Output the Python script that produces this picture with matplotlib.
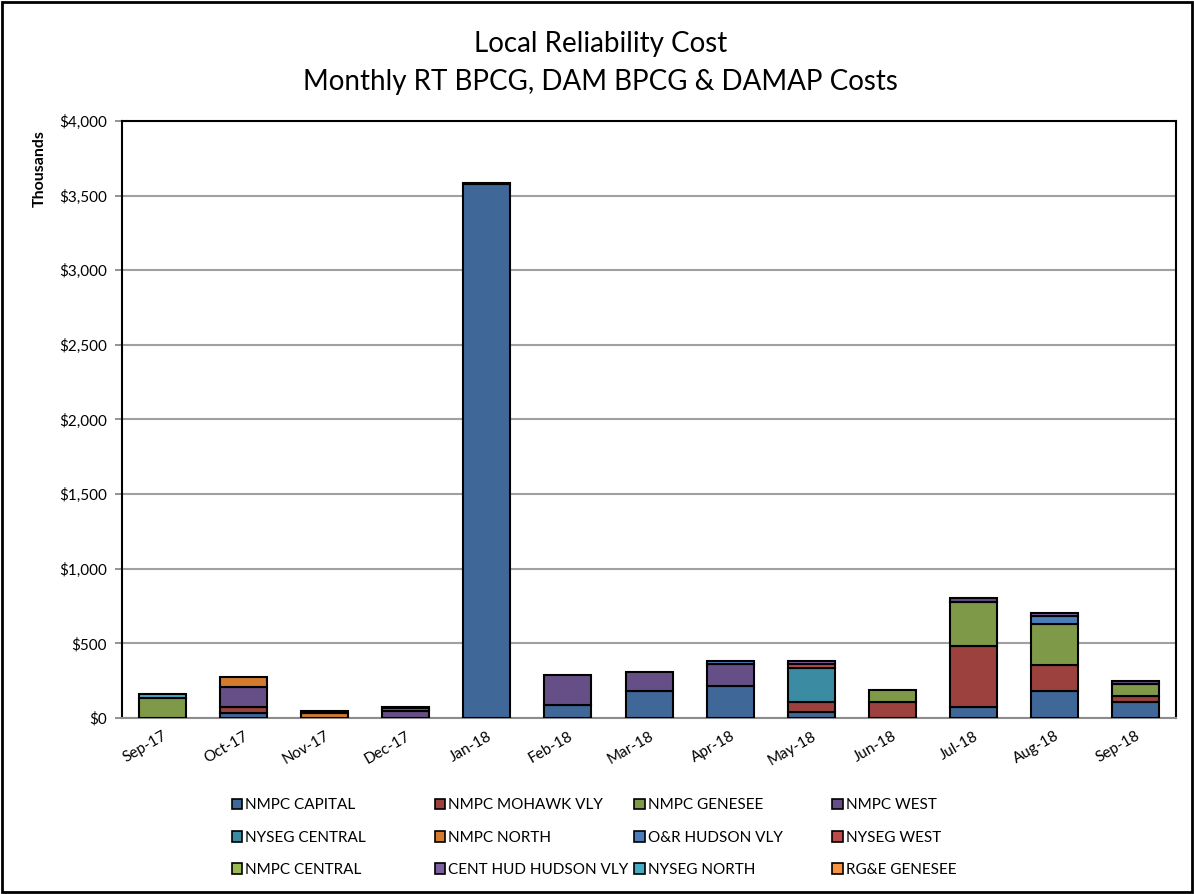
import numpy as np
import matplotlib.pyplot as plt
from matplotlib.patches import Rectangle, Patch
from matplotlib.ticker import FuncFormatter, MultipleLocator

plt.rcParams['font.family'] = ['Lato', 'DejaVu Sans']

months = ['Sep-17', 'Oct-17', 'Nov-17', 'Dec-17', 'Jan-18', 'Feb-18', 'Mar-18',
          'Apr-18', 'May-18', 'Jun-18', 'Jul-18', 'Aug-18', 'Sep-18']

# monthly cost by zone, $ thousands
nmpc_capital = [0, 35, 0, 0, 3575, 90, 183, 214, 37, 0, 75, 184, 105]
nmpc_mohawk_vly = [0, 40, 0, 0, 0, 0, 0, 0, 70, 110, 410, 174, 40]
nmpc_genesee = [135, 0, 0, 0, 0, 0, 0, 0, 0, 80, 295, 273, 85]
nmpc_west = [0, 135, 0, 45, 0, 195, 125, 147, 0, 0, 22, 0, 15]
nyseg_central = [0, 0, 0, 0, 0, 0, 0, 0, 228, 0, 0, 0, 0]
nmpc_north = [0, 62, 35, 0, 0, 0, 0, 0, 0, 0, 0, 0, 0]
or_hudson_vly = [0, 0, 0, 0, 0, 0, 0, 20, 0, 0, 0, 52, 0]
nyseg_west = [0, 0, 0, 22, 0, 0, 0, 0, 27, 0, 0, 0, 0]
nmpc_central = [0, 0, 0, 0, 0, 0, 0, 0, 0, 0, 0, 0, 0]
cent_hud_hudson_vly = [0, 0, 10, 7, 8, 0, 0, 0, 20, 0, 0, 18, 0]
nyseg_north = [25, 0, 0, 0, 0, 0, 0, 0, 0, 0, 0, 0, 0]
rge_genesee = [0, 0, 0, 0, 0, 0, 0, 0, 0, 0, 0, 0, 0]

zones = ['NMPC CAPITAL', 'NMPC MOHAWK VLY', 'NMPC GENESEE', 'NMPC WEST',
         'NYSEG CENTRAL', 'NMPC NORTH', 'O&R HUDSON VLY', 'NYSEG WEST',
         'NMPC CENTRAL', 'CENT HUD HUDSON VLY', 'NYSEG NORTH', 'RG&E GENESEE']
series = [nmpc_capital, nmpc_mohawk_vly, nmpc_genesee, nmpc_west,
          nyseg_central, nmpc_north, or_hudson_vly, nyseg_west,
          nmpc_central, cent_hud_hudson_vly, nyseg_north, rge_genesee]
colors = ['#3F6899', '#9C413E', '#7E9A48', '#664F87', '#3B8CA3', '#D27B2F',
          '#4A7EBB', '#BE4B48', '#98B954', '#7D60A0', '#46AAC5', '#F69240']

fig = plt.figure(figsize=(11.94, 8.94), dpi=100)
ax = fig.add_axes([0.1022, 0.1969, 0.8828, 0.6678])

x = np.arange(len(months))
bottom = np.zeros(len(months))
for vals, c in zip(series, colors):
    vals = np.array(vals, dtype=float)
    lw = [1.5 if v > 0 else 0 for v in vals]
    ax.bar(x, vals, 0.58, bottom=bottom, color=c, edgecolor='black',
           linewidth=lw, zorder=3)
    bottom += vals

ax.set_xlim(-0.5, len(months) - 0.5)
ax.set_ylim(0, 4000)
ax.yaxis.set_major_locator(MultipleLocator(500))
ax.yaxis.set_major_formatter(FuncFormatter(lambda v, p: f'${v:,.0f}'))
ax.grid(axis='y', color='#A0A0A0', linewidth=1.5, zorder=0)

ax.set_xticks(x)
ax.set_xticklabels(months, rotation=30, ha='right', rotation_mode='anchor')
ax.tick_params(axis='x', length=0, labelsize=11, pad=8)
ax.tick_params(axis='y', length=5, width=1.2, color='#808080', labelsize=11, pad=6)

for s in ['left', 'top', 'right']:
    ax.spines[s].set_color('black')
    ax.spines[s].set_linewidth(1.5)
ax.spines['bottom'].set_color('#8C8C8C')
ax.spines['bottom'].set_linewidth(1.5)

fig.text(0.0335, 0.812, 'Thousands', rotation=90, ha='center', va='center',
         fontsize=11.5, fontweight='bold')

fig.text(0.503, 0.951, 'Local Reliability Cost', ha='center', va='center', fontsize=20)
fig.text(0.503, 0.908, 'Monthly RT BPCG, DAM BPCG & DAMAP Costs', ha='center',
         va='center', fontsize=20)

# legend laid out row by row, one legend per column
col_x = [0.194, 0.364, 0.531, 0.697]
for j in range(4):
    idx = [j, j + 4, j + 8]
    handles = [Patch(facecolor=colors[i], edgecolor='black', linewidth=1.2) for i in idx]
    fig.legend(handles, [zones[i] for i in idx], loc='upper left',
               bbox_to_anchor=(col_x[j], 0.107), frameon=False, fontsize=11,
               handlelength=0.7, handleheight=0.7, handletextpad=0.2,
               labelspacing=1.2, borderaxespad=0, borderpad=0)

fig.add_artist(Rectangle((0.002, 0.002), 0.996, 0.996, transform=fig.transFigure,
                         fill=False, edgecolor='black', linewidth=2))

fig.savefig('out.png', dpi=100)
